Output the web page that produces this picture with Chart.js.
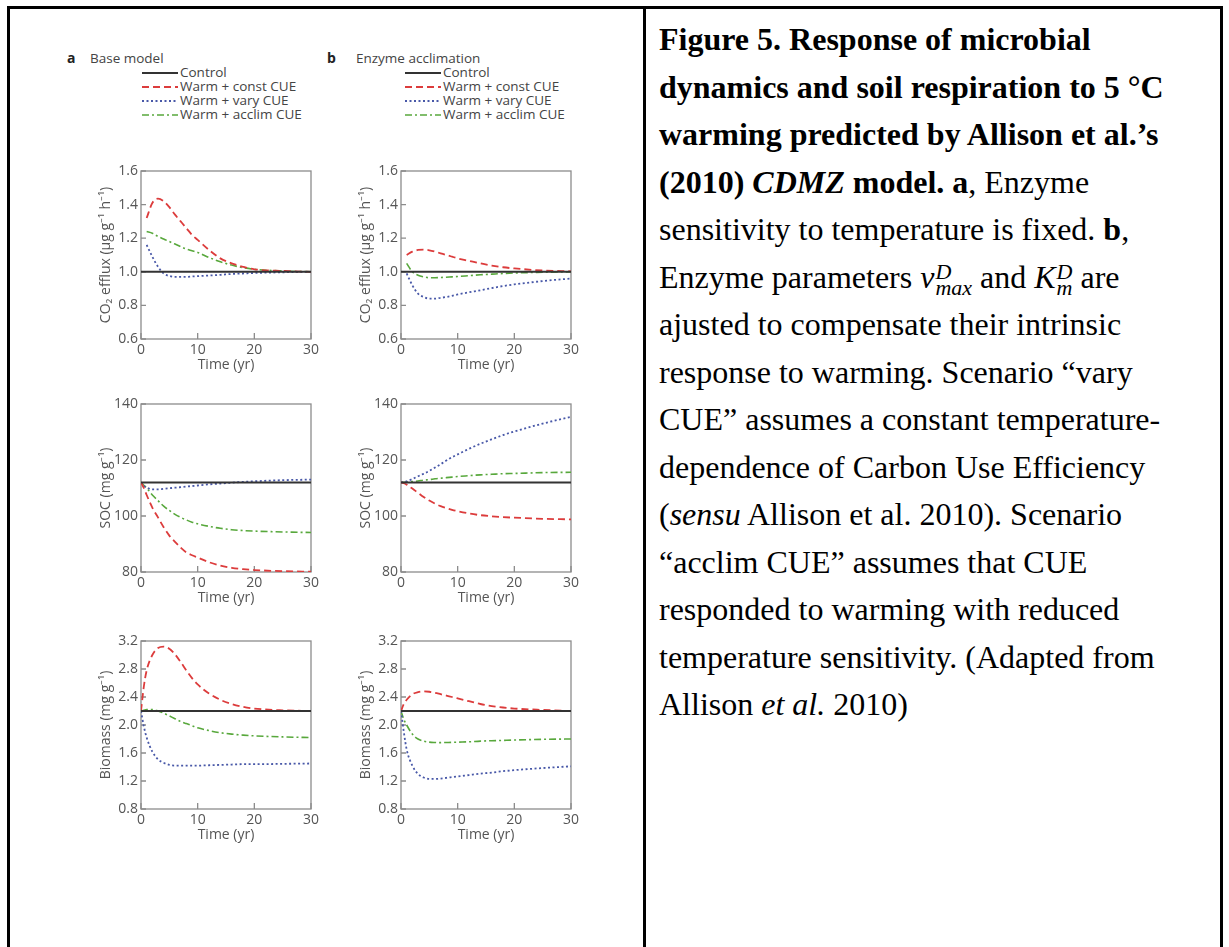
<!DOCTYPE html>
<html>
<head>
<meta charset="utf-8">
<script src="https://cdn.jsdelivr.net/npm/chart.js@4.4.1/dist/chart.umd.min.js"></script>
<style>
  html, body { margin: 0; padding: 0; background: #fff; }
  body { width: 1229px; height: 947px; position: relative; overflow: hidden; }
  .rule { position: absolute; background: #000; }
  .box { position: absolute; }
  .tag { position: absolute; font: bold 14px "Open Sans", sans-serif; color: #222; line-height: 16px; }
  .head { position: absolute; font: 13.5px "Open Sans", sans-serif; color: #444; line-height: 16px; white-space: nowrap; }
  .legend { position: absolute; font: 13.5px "Open Sans", sans-serif; color: #444; white-space: nowrap; }
  .legend div { height: 14px; line-height: 14px; }
  .legend svg { vertical-align: middle; margin-right: 2px; }
  #caption { position: absolute; left: 659px; top: 16px; font-family: "Liberation Serif", "Times New Roman", serif;
             font-size: 32px; line-height: 47.5px; color: #000; white-space: nowrap; }
  .m { font-style: italic; display: inline-block; }
  .ss { display: inline-block; vertical-align: middle; line-height: 16px; font-size: 22px; margin-left: 1px; }
  .ss span { display: block; }
</style>
</head>
<body>

<div class="rule" style="left:7px; top:6px; width:1216px; height:3px;"></div>
<div class="rule" style="left:7px; top:6px; width:3px; height:941px;"></div>
<div class="rule" style="left:643px; top:6px; width:3px; height:941px;"></div>
<div class="rule" style="left:1220px; top:6px; width:3px; height:941px;"></div>

<div class="tag" style="left:67px; top:50px;">a</div>
<div class="head" style="left:90px; top:50px;">Base model</div>
<div class="tag" style="left:327px; top:50px;">b</div>
<div class="head" style="left:356px; top:50px;">Enzyme acclimation</div>
<div class="legend" id="legA" style="left:142px; top:65px;"></div>
<div class="legend" id="legB" style="left:405px; top:65px;"></div>

<div class="box" id="p0"><canvas id="c0" width="254" height="225"></canvas></div>
<div class="box" id="p1"><canvas id="c1" width="254" height="225"></canvas></div>
<div class="box" id="p2"><canvas id="c2" width="254" height="225"></canvas></div>
<div class="box" id="p3"><canvas id="c3" width="254" height="225"></canvas></div>
<div class="box" id="p4"><canvas id="c4" width="254" height="225"></canvas></div>
<div class="box" id="p5"><canvas id="c5" width="254" height="225"></canvas></div>

<div id="caption">
<b>Figure 5. Response of microbial</b><br>
<b>dynamics and soil respiration to 5 °C</b><br>
<b>warming predicted by Allison et al.’s</b><br>
<b>(2010) <i>CDMZ</i> model. a</b>, Enzyme<br>
sensitivity to temperature is fixed. <b>b</b>,<br>
Enzyme parameters <span class="m">v</span><span class="ss m"><span>D</span><span>max</span></span> and <span class="m">K</span><span class="ss m"><span>D</span><span>m</span></span> are<br>
ajusted to compensate their intrinsic<br>
response to warming. Scenario “vary<br>
CUE” assumes a constant temperature-<br>
dependence of Carbon Use Efficiency<br>
(<i>sensu</i> Allison et al. 2010). Scenario<br>
“acclim CUE” assumes that CUE<br>
responded to warming with reduced<br>
temperature sensitivity. (Adapted from<br>
Allison <i>et al.</i> 2010)
</div>

<script>
// time axis (yr) shared by all panels
const years = [0, 0.5, 1, 2, 3, 4, 5, 6, 7, 8, 9, 10, 12, 14, 16, 18, 20, 25, 30];
const xTicks = [0, 10, 20, 30];

const seriesNames = ["Control", "Warm + const CUE", "Warm + vary CUE", "Warm + acclim CUE"];

// CO2 efflux (ug g-1 h-1)
const co2Ticks = [0.6, 0.8, 1.0, 1.2, 1.4, 1.6];
const co2BaseControl = [1, 1, 1, 1, 1, 1, 1, 1, 1, 1, 1, 1, 1, 1, 1, 1, 1, 1, 1];
const co2BaseConst = [null, null, 1.32, 1.41, 1.435, 1.42, 1.385, 1.34, 1.30, 1.26, 1.22, 1.19, 1.13, 1.08, 1.05, 1.03, 1.015, 1.005, 1.0];
const co2BaseVary = [null, null, 1.16, 1.09, 1.03, 0.99, 0.975, 0.97, 0.97, 0.97, 0.972, 0.974, 0.978, 0.982, 0.987, 0.99, 0.993, 0.997, 1.0];
const co2BaseAcclim = [null, null, 1.24, 1.23, 1.21, 1.195, 1.18, 1.165, 1.15, 1.135, 1.125, 1.115, 1.085, 1.06, 1.04, 1.025, 1.015, 1.005, 1.0];
const co2EnzControl = [1, 1, 1, 1, 1, 1, 1, 1, 1, 1, 1, 1, 1, 1, 1, 1, 1, 1, 1];
const co2EnzConst = [null, null, 1.10, 1.12, 1.13, 1.132, 1.128, 1.12, 1.11, 1.10, 1.09, 1.08, 1.065, 1.05, 1.037, 1.027, 1.02, 1.008, 1.003];
const co2EnzVary = [null, null, 0.99, 0.92, 0.87, 0.85, 0.84, 0.84, 0.845, 0.85, 0.857, 0.865, 0.878, 0.89, 0.903, 0.915, 0.925, 0.945, 0.96];
const co2EnzAcclim = [null, null, 1.05, 1.0, 0.98, 0.97, 0.965, 0.965, 0.966, 0.968, 0.97, 0.972, 0.977, 0.982, 0.986, 0.99, 0.993, 0.997, 1.0];

// SOC (mg g-1)
const socTicks = [80, 100, 120, 140];
const socBaseControl = [112, 112, 112, 112, 112, 112, 112, 112, 112, 112, 112, 112, 112, 112, 112, 112, 112, 112, 112];
const socBaseConst = [112, 110, 107.5, 103, 99.5, 96, 93, 90.8, 88.7, 87, 86, 85.2, 83.5, 82.3, 81.5, 81, 80.7, 80.3, 80.1];
const socBaseVary = [112, 110.8, 110.2, 109.5, 109.5, 109.7, 109.9, 110.1, 110.3, 110.5, 110.7, 110.9, 111.3, 111.6, 111.9, 112.2, 112.4, 112.8, 113.0];
const socBaseAcclim = [112, 111, 110, 107.5, 105.5, 103.5, 102, 100.6, 99.5, 98.6, 97.8, 97.2, 96.3, 95.6, 95.1, 94.8, 94.6, 94.3, 94.1];
const socEnzControl = [112, 112, 112, 112, 112, 112, 112, 112, 112, 112, 112, 112, 112, 112, 112, 112, 112, 112, 112];
const socEnzConst = [112, 111.7, 111.2, 109.8, 108.3, 106.8, 105.5, 104.4, 103.5, 102.8, 102.2, 101.7, 100.9, 100.3, 99.9, 99.6, 99.4, 99.0, 98.8];
const socEnzVary = [112, 112.1, 112.4, 113.2, 114.2, 115.1, 116.1, 117.3, 118.5, 119.8, 121, 122, 124, 125.8, 127.4, 128.9, 130.2, 133, 135.4];
const socEnzAcclim = [112, 112, 112.1, 112.3, 112.5, 112.8, 113, 113.3, 113.5, 113.7, 113.9, 114.1, 114.4, 114.7, 114.9, 115.1, 115.2, 115.5, 115.6];

// Biomass (mg g-1)
const bioTicks = [0.8, 1.2, 1.6, 2.0, 2.4, 2.8, 3.2];
const bioBaseControl = [2.2, 2.2, 2.2, 2.2, 2.2, 2.2, 2.2, 2.2, 2.2, 2.2, 2.2, 2.2, 2.2, 2.2, 2.2, 2.2, 2.2, 2.2, 2.2];
const bioBaseConst = [2.2, 2.55, 2.78, 3.0, 3.1, 3.12, 3.09, 3.01, 2.9, 2.78, 2.67, 2.58, 2.45, 2.36, 2.3, 2.26, 2.235, 2.21, 2.2];
const bioBaseVary = [2.2, 1.98, 1.82, 1.62, 1.51, 1.46, 1.43, 1.42, 1.42, 1.42, 1.42, 1.42, 1.425, 1.43, 1.435, 1.44, 1.44, 1.445, 1.45];
const bioBaseAcclim = [2.2, 2.21, 2.22, 2.22, 2.2, 2.17, 2.13, 2.09, 2.05, 2.02, 1.99, 1.96, 1.92, 1.89, 1.87, 1.855, 1.845, 1.83, 1.82];
const bioEnzControl = [2.2, 2.2, 2.2, 2.2, 2.2, 2.2, 2.2, 2.2, 2.2, 2.2, 2.2, 2.2, 2.2, 2.2, 2.2, 2.2, 2.2, 2.2, 2.2];
const bioEnzConst = [2.2, 2.3, 2.36, 2.44, 2.47, 2.48, 2.475, 2.46, 2.44, 2.42, 2.4, 2.38, 2.34, 2.3, 2.27, 2.25, 2.235, 2.215, 2.2];
const bioEnzVary = [2.2, 1.9, 1.65, 1.42, 1.3, 1.25, 1.23, 1.23, 1.235, 1.245, 1.255, 1.265, 1.285, 1.305, 1.32, 1.34, 1.355, 1.385, 1.41];
const bioEnzAcclim = [2.2, 2.08, 2.0, 1.87, 1.8, 1.77, 1.755, 1.75, 1.748, 1.75, 1.752, 1.755, 1.76, 1.77, 1.775, 1.78, 1.785, 1.795, 1.8];

// line looks, same order as seriesNames
const lineStyles = [
    { color: "#333333", width: 2, dash: [] },
    { color: "#dc3c3c", width: 1.8, dash: [7, 4] },
    { color: "#4858a8", width: 1.8, dash: [2, 2.5] },
    { color: "#58a83c", width: 1.6, dash: [7, 3, 2, 3] }
];

Chart.defaults.font.family = "Open Sans";
Chart.defaults.font.size = 14;
Chart.defaults.color = "#555";

// legends (HTML, with small svg line samples)
function buildLegend(el) {
    seriesNames.forEach(function(name, i) {
        const st = lineStyles[i];
        const row = document.createElement("div");
        row.innerHTML = '<svg width="36" height="6"><line x1="0" y1="3" x2="36" y2="3" stroke="' + st.color +
            '" stroke-width="' + st.width + '" stroke-dasharray="' + st.dash.join(",") + '"/></svg>' + name;
        el.appendChild(row);
    });
}
buildLegend(document.getElementById("legA"));
buildLegend(document.getElementById("legB"));

// box + inward ticks
const framePlugin = {
    id: "frame",
    beforeDatasetsDraw(chart) {
        const { ctx, chartArea: a, scales } = chart;
        ctx.save();
        ctx.strokeStyle = "#8c8c8c";
        ctx.lineWidth = 1.3;
        ctx.strokeRect(a.left, a.top, a.right - a.left, a.bottom - a.top);
        ctx.beginPath();
        scales.y.ticks.forEach(function(t) {
            const y = scales.y.getPixelForValue(t.value);
            ctx.moveTo(a.left, y);
            ctx.lineTo(a.left + 5, y);
        });
        scales.x.ticks.forEach(function(t) {
            const x = scales.x.getPixelForValue(t.value);
            ctx.moveTo(x, a.bottom);
            ctx.lineTo(x, a.bottom - 6);
        });
        ctx.stroke();
        ctx.restore();
    }
};

function makePanel(idx, left, top, yTitle, yTicks, decimals, series) {
    const box = document.getElementById("p" + idx);
    box.style.left = (left - 70) + "px";
    box.style.top = (top - 12) + "px";
    const datasets = series.map(function(vals, i) {
        const st = lineStyles[i];
        return {
            label: seriesNames[i],
            data: years.map(function(t, k) { return { x: t, y: vals[k] }; }),
            borderColor: st.color,
            borderWidth: st.width,
            borderDash: st.dash,
            pointRadius: 0,
            fill: false,
            cubicInterpolationMode: "monotone",
            order: i
        };
    });
    new Chart(document.getElementById("c" + idx), {
        type: "line",
        data: { datasets: datasets },
        options: {
            responsive: false,
            animation: false,
            layout: { padding: { top: 12, right: 14, left: 0, bottom: 0 } },
            plugins: { legend: { display: false }, tooltip: { enabled: false } },
            scales: {
                x: {
                    type: "linear", min: 0, max: 30,
                    afterBuildTicks: function(s) { s.ticks = xTicks.map(function(v) { return { value: v }; }); },
                    afterFit: function(s) { s.height = 45; },
                    grid: { display: false, drawTicks: false, tickLength: 0 },
                    border: { display: false },
                    ticks: { padding: 3, maxRotation: 0 },
                    title: { display: true, text: "Time (yr)", padding: { top: 0, bottom: 11 } }
                },
                y: {
                    type: "linear", min: yTicks[0], max: yTicks[yTicks.length - 1],
                    afterBuildTicks: function(s) { s.ticks = yTicks.map(function(v) { return { value: v }; }); },
                    afterFit: function(s) { s.width = 70; },
                    grid: { display: false, drawTicks: false, tickLength: 0 },
                    border: { display: false },
                    ticks: { padding: 3, callback: function(v) { return Number(v).toFixed(decimals); } },
                    title: { display: true, text: yTitle, padding: { top: 27, bottom: 0 } }
                }
            }
        },
        plugins: [framePlugin]
    });
}

makePanel(0, 141, 171, "CO\u2082 efflux (\u03bcg g\u207b\u00b9 h\u207b\u00b9)", co2Ticks, 1,
    [co2BaseControl, co2BaseConst, co2BaseVary, co2BaseAcclim]);
makePanel(1, 401, 171, "CO\u2082 efflux (\u03bcg g\u207b\u00b9 h\u207b\u00b9)", co2Ticks, 1,
    [co2EnzControl, co2EnzConst, co2EnzVary, co2EnzAcclim]);
makePanel(2, 141, 404, "SOC (mg g\u207b\u00b9)", socTicks, 0,
    [socBaseControl, socBaseConst, socBaseVary, socBaseAcclim]);
makePanel(3, 401, 404, "SOC (mg g\u207b\u00b9)", socTicks, 0,
    [socEnzControl, socEnzConst, socEnzVary, socEnzAcclim]);
makePanel(4, 141, 641, "Biomass (mg g\u207b\u00b9)", bioTicks, 1,
    [bioBaseControl, bioBaseConst, bioBaseVary, bioBaseAcclim]);
makePanel(5, 401, 641, "Biomass (mg g\u207b\u00b9)", bioTicks, 1,
    [bioEnzControl, bioEnzConst, bioEnzVary, bioEnzAcclim]);
</script>
</body>
</html>
